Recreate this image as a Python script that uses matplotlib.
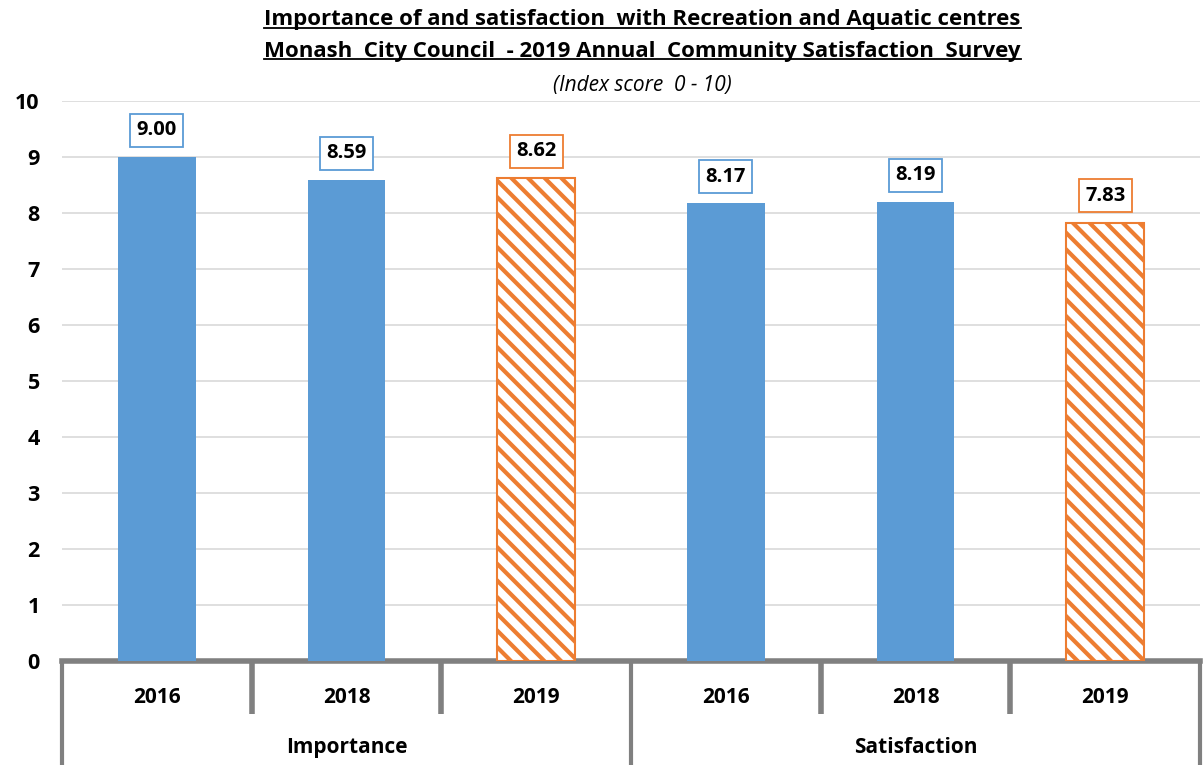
import numpy as np
import matplotlib.pyplot as plt

years = ['2016', '2018', '2019', '2016', '2018', '2019']
groups = ['Importance', 'Satisfaction']
scores = [9.00, 8.59, 8.62, 8.17, 8.19, 7.83]
is_current = [False, False, True, False, False, True]

blue = '#5B9BD5'
orange = '#ED7D31'
axis_grey = '#808080'

plt.rcParams['font.family'] = ['Open Sans', 'DejaVu Sans']
plt.rcParams['hatch.linewidth'] = 3.0

fig = plt.figure(figsize=(12.03, 7.65), dpi=100)
ax = fig.add_axes([62 / 1203, 104 / 765, 1138 / 1203, 560 / 765])

x = np.arange(len(scores))
for xi, val, cur in zip(x, scores, is_current):
    if cur:
        ax.bar(xi, val, width=0.41, color='white', edgecolor=orange,
               hatch='\\\\', linewidth=1.5, zorder=3)
        ec = orange
    else:
        ax.bar(xi, val, width=0.41, color=blue, zorder=3)
        ec = blue
    ax.text(xi, val + 0.48, f'{val:.2f}', ha='center', va='center',
            fontsize=14.5, fontweight='bold', zorder=5,
            bbox=dict(boxstyle='square,pad=0.32', fc='white', ec=ec, lw=1.3))

ax.set_xlim(-0.5, len(scores) - 0.5)
ax.set_ylim(0, 10)
ax.set_yticks(range(0, 11))
ax.tick_params(axis='y', length=0, labelsize=15.5, pad=16)
for lab in ax.get_yticklabels():
    lab.set_fontweight('bold')
ax.set_xticks([])
ax.grid(axis='y', color='#D9D9D9', linewidth=1.2, zorder=0)
for s in ['top', 'right', 'left']:
    ax.spines[s].set_visible(False)
ax.spines['bottom'].set_color(axis_grey)
ax.spines['bottom'].set_linewidth(4)

# category axis: year labels and group labels with separators
trans = ax.get_xaxis_transform()
for xi, yr in zip(x, years):
    ax.text(xi, -0.065, yr, transform=trans, ha='center', va='center',
            fontsize=15, fontweight='bold')
for i in range(len(scores) + 1):
    xb = i - 0.5
    y_end = -0.19 if i % 3 == 0 else -0.095
    ax.plot([xb, xb], [0, y_end], transform=trans, color=axis_grey,
            linewidth=4 if i % 3 else 3, clip_on=False, solid_capstyle='butt')
for gi, g in enumerate(groups):
    ax.text(gi * 3 + 1, -0.155, g, transform=trans, ha='center', va='center',
            fontsize=15, fontweight='bold')

# titles
t1 = fig.text(0.534, 1 - 20 / 765, 'Importance of and satisfaction  with Recreation and Aquatic centres',
              ha='center', va='center', fontsize=16, fontweight='bold')
t2 = fig.text(0.534, 1 - 51 / 765, 'Monash  City Council  - 2019 Annual  Community Satisfaction  Survey',
              ha='center', va='center', fontsize=16, fontweight='bold')
fig.text(0.534, 1 - 85 / 765, '(Index score  0 - 10)', ha='center', va='center',
         fontsize=15, style='italic')

fig.canvas.draw()
r = fig.canvas.get_renderer()
for t in (t1, t2):
    bb = t.get_window_extent(r).transformed(fig.transFigure.inverted())
    fig.add_artist(plt.Line2D([bb.x0, bb.x1], [bb.y0 + 0.003, bb.y0 + 0.003],
                              transform=fig.transFigure, color='black', linewidth=1.3))

fig.savefig('out.png', dpi=100)
